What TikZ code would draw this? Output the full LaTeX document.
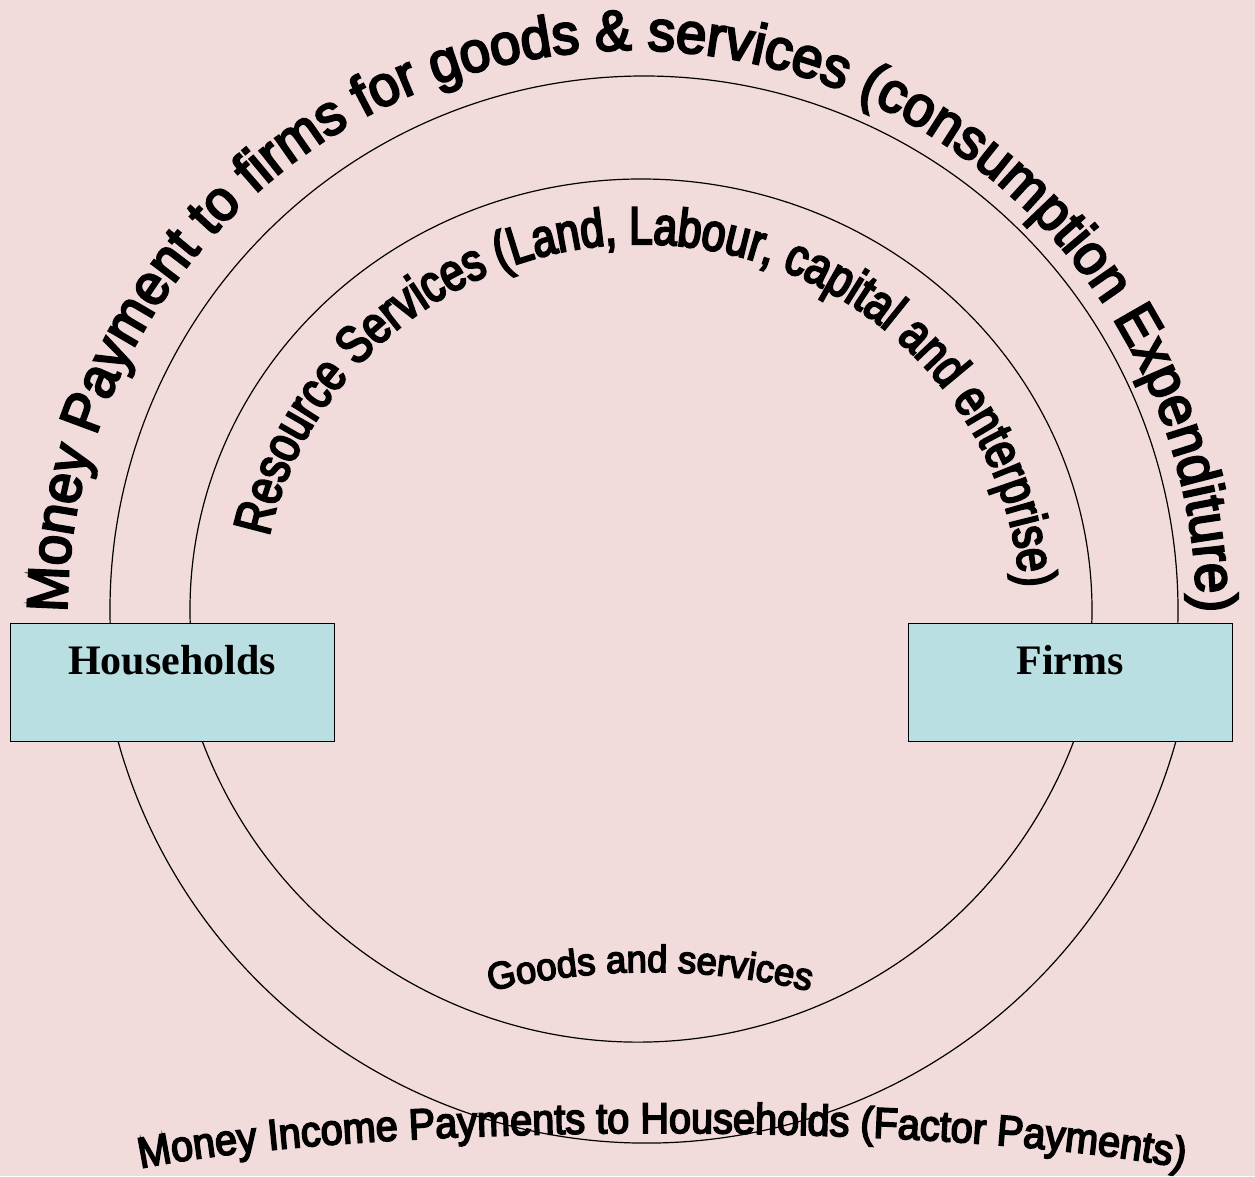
\documentclass[tikz,border=0pt]{standalone}
\usepackage{fontspec}
\setmainfont{Liberation Serif}
\newfontfamily\arcfont[FakeBold=4, FakeStretch=0.96]{Liberation Sans}
\newfontfamily\narrowarcfont[FakeBold=4, FakeStretch=0.8]{Liberation Sans}
\newfontfamily\lowarcfont[FakeBold=4, FakeStretch=0.92]{Liberation Sans}
\usetikzlibrary{decorations.text}
\definecolor{bgpink}{HTML}{F2DCDB}
\definecolor{boxaqua}{HTML}{B9DFE3}
\tikzstyle{sector}=[draw=black, line width=1pt, fill=boxaqua, minimum width=324pt, minimum height=118pt, inner sep=0pt]
\tikzstyle{sectorname}=[font=\bfseries\fontsize{42}{48}\selectfont, anchor=base, inner sep=0pt]
\tikzstyle{flow}=[draw=black, line width=1.2pt]
\tikzstyle{flowtext}=[decorate, decoration={text along path, text align=center}]

\begin{document}
\begin{tikzpicture}[x=1pt, y=1pt]
\fill[bgpink] (0,0) rectangle (1255,1176);
\useasboundingbox (0,0) rectangle (1255,1176);

\coordinate (outertop) at (644,566);
\coordinate (innertop) at (641,566);
\coordinate (outerlow) at (647,582);
\coordinate (innerlow) at (638,600);

% circular flows, ends hidden under the boxes
\draw[flow] (outertop) ++(182:534) arc[start angle=182, end angle=-2, radius=534];
\draw[flow] (innertop) ++(183:451 and 431) arc[start angle=183, end angle=-3, x radius=451, y radius=431];
\draw[flow] (outerlow) ++(190:549) arc[start angle=190, end angle=350, radius=549];
\draw[flow] (innerlow) ++(198:466) arc[start angle=198, end angle=342, radius=466];

\node[sector] (hh) at (172,493) {};
\node[sector] (firms) at (1070,493) {};
\node[sectorname] (hhname) at ([yshift=-51pt]hh.north) {Households};
\node[sectorname] (firmsname) at ([yshift=-51pt]firms.north) {Firms};

% flow labels
\path[flowtext, decoration={text={|\arcfont\fontsize{57}{62}\selectfont|Money Payment to firms for goods {\&} services (consumption Expenditure)}}]
  (632,561) ++(182:565) arc[start angle=182, end angle=-2, radius=565];
\path[flowtext, decoration={text={|\narrowarcfont\fontsize{53}{60}\selectfont|Resource Services (Land, Labour, capital and enterprise)}}]
  (641,564) ++(172:380 and 368) arc[start angle=172, end angle=0, x radius=380, y radius=368];
\path[flowtext, decoration={text={|\arcfont\fontsize{38}{42}\selectfont|Goods and services}}]
  (650,-472) ++(110:676) arc[start angle=110, end angle=70, radius=676];
\path[flowtext, decoration={text={|\lowarcfont\fontsize{43}{48}\selectfont|Money Income Payments to Households (Factor Payments)}}]
  (662,-27) ++(165:600 and 70) arc[start angle=165, end angle=15, x radius=600, y radius=70];
\end{tikzpicture}
\end{document}
